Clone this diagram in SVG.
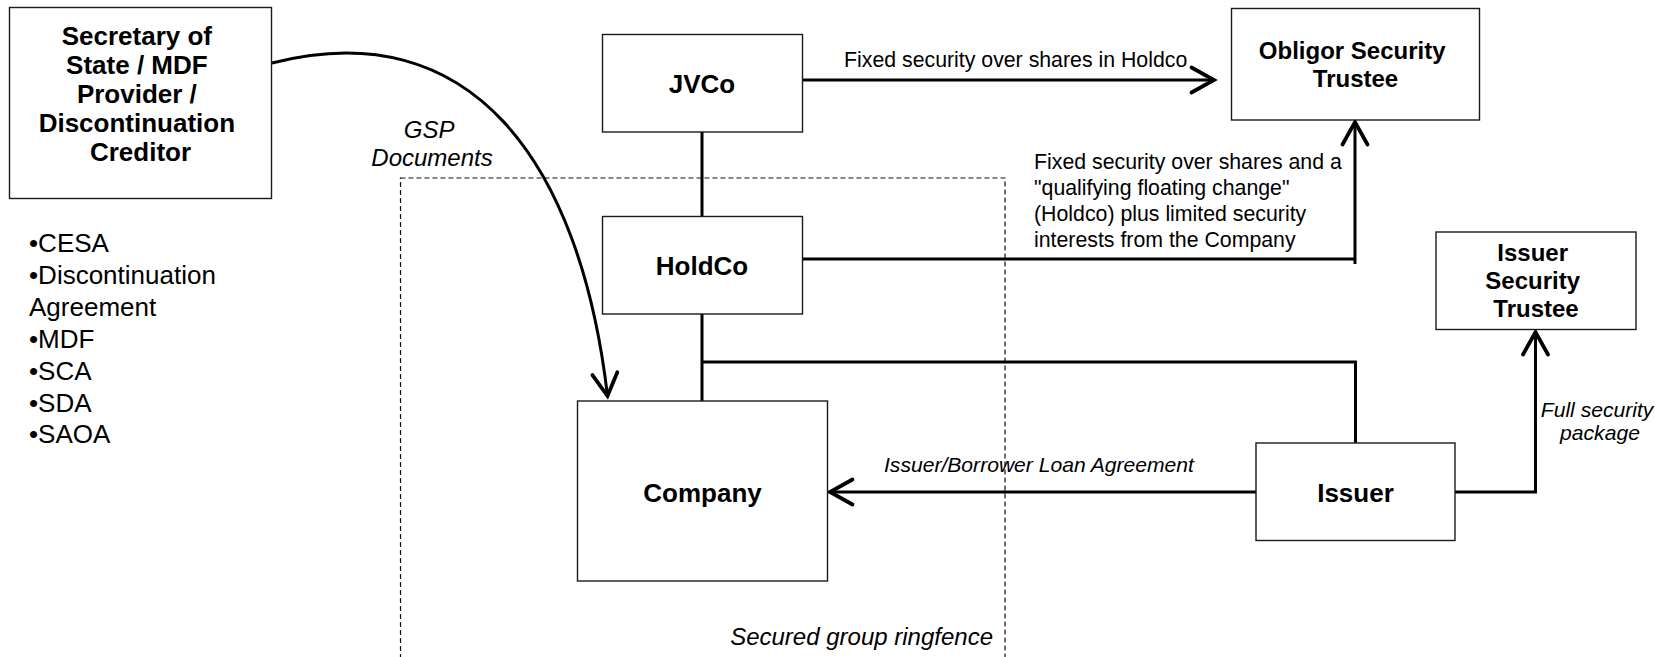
<svg xmlns="http://www.w3.org/2000/svg" width="1662" height="657" viewBox="0 0 1662 657">
  <style>
    .box { fill: #ffffff; stroke: #1a1a1a; stroke-width: 1.4; }
    .title { font-family: "Liberation Sans", Arial, sans-serif; font-weight: bold; fill: #000; text-anchor: middle; }
    .t26 { font-size: 26px; }
    .t24 { font-size: 24px; }
    .label { font-family: "Liberation Sans", Arial, sans-serif; font-size: 21.3px; fill: #000; }
    .ital { font-family: "Liberation Sans", Arial, sans-serif; font-style: italic; fill: #000; }
    .list { font-family: "Liberation Sans", Arial, sans-serif; font-size: 26px; fill: #000; }
    .conn { fill: none; stroke: #000; stroke-width: 3; }
    .fence { fill: none; stroke: #111; stroke-width: 1.2; stroke-dasharray: 5 3; }
  </style>
  <defs>
    <marker id="arrow" markerUnits="userSpaceOnUse" markerWidth="30" markerHeight="30" refX="0" refY="0" viewBox="-20 -12 24 24" orient="auto" overflow="visible">
      <path d="M-18,-10 L0,0 L-18,10" fill="none" stroke="#000" stroke-width="3" stroke-linecap="round" stroke-linejoin="miter"/>
    </marker>
  </defs>

  <rect width="1662" height="657" fill="#ffffff"/>

  <!-- secured group ringfence (dashed boundary) -->
  <g id="ringfence">
    <rect class="fence" x="400.5" y="178" width="604.5" height="520"/>
    <text class="ital" font-size="24" x="993" y="645" text-anchor="end">Secured group ringfence</text>
  </g>

  <!-- connectors -->
  <g id="connectors">
    <path class="conn" d="M802,80 L1214,80" marker-end="url(#arrow)"/>
    <path class="conn" d="M702,132 L702,216"/>
    <path class="conn" d="M802,259 L1355,259"/>
    <path class="conn" d="M1355,264 L1355,122" marker-end="url(#arrow)"/>
    <path class="conn" d="M702,314 L702,401"/>
    <path class="conn" d="M702,362 L1355.5,362 L1355.5,443"/>
    <path class="conn" d="M1256,492 L830,492" marker-end="url(#arrow)"/>
    <path class="conn" d="M1455,492 L1535.5,492 L1535.5,332" marker-end="url(#arrow)"/>
    <path class="conn" d="M272,63 C470,12 580,160 607.5,396" marker-end="url(#arrow)"/>

    <text class="label" x="844" y="67">Fixed security over shares in Holdco</text>
    <text class="label">
      <tspan x="1034" y="169">Fixed security over shares and a</tspan>
      <tspan x="1034" y="195">"qualifying floating change"</tspan>
      <tspan x="1034" y="221">(Holdco) plus limited security</tspan>
      <tspan x="1034" y="247">interests from the Company</tspan>
    </text>
    <text class="ital" font-size="24" text-anchor="middle">
      <tspan x="432" y="138">GSP</tspan>
      <tspan x="432" y="166">Documents</tspan>
    </text>
    <text class="ital" font-size="21.1" x="884" y="472">Issuer/Borrower Loan Agreement</text>
    <text class="ital" font-size="21.1" text-anchor="middle">
      <tspan x="1600" y="417">Full security</tspan>
      <tspan x="1600" y="440">package</tspan>
    </text>
  </g>

  <!-- nodes -->
  <g id="secretary">
    <rect class="box" x="9.5" y="7.5" width="262" height="191"/>
    <text class="title t26">
      <tspan x="140.5" y="45">Secretary of</tspan>
      <tspan x="140.5" y="74">State / MDF</tspan>
      <tspan x="140.5" y="103">Provider /</tspan>
      <tspan x="140.5" y="132">Discontinuation</tspan>
      <tspan x="140.5" y="161">Creditor</tspan>
    </text>
  </g>

  <g id="documents">
    <text class="list">
      <tspan x="29" y="252">•CESA</tspan>
      <tspan x="29" y="284">•Discontinuation</tspan>
      <tspan x="29" y="316">Agreement</tspan>
      <tspan x="29" y="348">•MDF</tspan>
      <tspan x="29" y="380">•SCA</tspan>
      <tspan x="29" y="412">•SDA</tspan>
      <tspan x="29" y="443">•SAOA</tspan>
    </text>
  </g>

  <g id="jvco">
    <rect class="box" x="602.5" y="34.5" width="200" height="97.5"/>
    <text class="title t26" x="702" y="93">JVCo</text>
  </g>

  <g id="holdco">
    <rect class="box" x="602.5" y="216.5" width="200" height="97.5"/>
    <text class="title t26" x="702" y="275">HoldCo</text>
  </g>

  <g id="company">
    <rect class="box" x="577.5" y="401" width="250" height="180"/>
    <text class="title t26" x="702.5" y="502">Company</text>
  </g>

  <g id="obligor-security-trustee">
    <rect class="box" x="1231.5" y="8.5" width="248" height="111.5"/>
    <text class="title t24">
      <tspan x="1355.5" y="59">Obligor Security</tspan>
      <tspan x="1355.5" y="87">Trustee</tspan>
    </text>
  </g>

  <g id="issuer-security-trustee">
    <rect class="box" x="1436" y="232" width="200" height="97.5"/>
    <text class="title t24">
      <tspan x="1536" y="261">Issuer</tspan>
      <tspan x="1536" y="289">Security</tspan>
      <tspan x="1536" y="317">Trustee</tspan>
    </text>
  </g>

  <g id="issuer">
    <rect class="box" x="1256" y="443" width="199" height="97.5"/>
    <text class="title t26" x="1355.5" y="502">Issuer</text>
  </g>
</svg>
